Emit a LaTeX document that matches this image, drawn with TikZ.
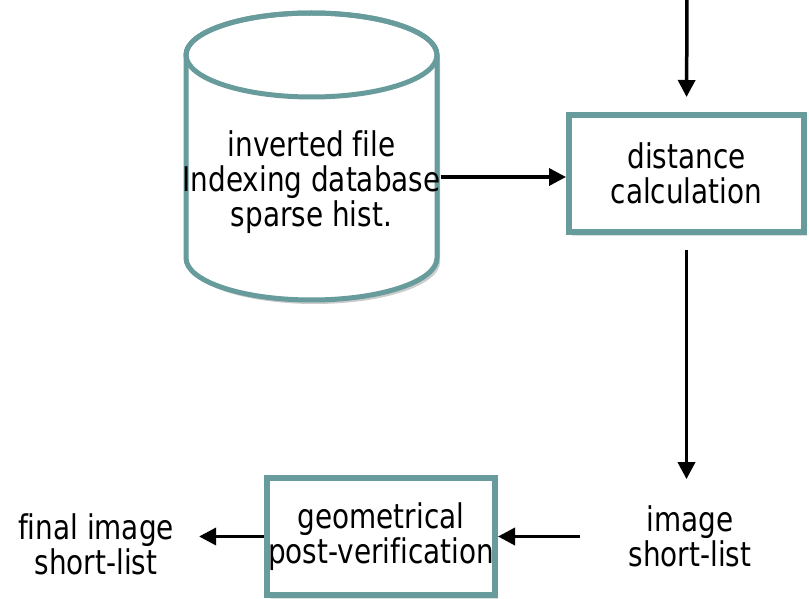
\documentclass[tikz,border=0pt]{standalone}
\usepackage{fontspec}
\setmainfont{DejaVu Sans}[FakeStretch=0.82,Ligatures=NoCommon]
\usetikzlibrary{arrows.meta,shadows}
\definecolor{tealline}{RGB}{104,155,155}
\begin{document}
\begin{tikzpicture}[x=1pt,y=-1pt,
  lbl/.style={align=center,inner sep=0pt,font=\fontsize{34}{35}\selectfont},
  procbox/.style={lbl,draw=tealline,line width=6pt,fill=white,
    drop shadow={opacity=0.25,shadow xshift=3pt,shadow yshift=-4pt}},
  flow/.style={line width=3.5pt,-{Triangle[length=17pt,width=17pt]}}]
\useasboundingbox (0,0) rectangle (809,599);

% database cylinder
\fill[black,opacity=0.2,shift={(3,4)}]
  (186,55) -- (186,258) arc[start angle=180,end angle=360,x radius=125.5pt,y radius=42pt]
  -- (437,55) arc[start angle=0,end angle=180,x radius=125.5pt,y radius=42pt] -- cycle;
\filldraw[fill=white,draw=tealline,line width=5pt]
  (186,55) -- (186,258) arc[start angle=180,end angle=360,x radius=125.5pt,y radius=42pt]
  -- (437,55) arc[start angle=0,end angle=180,x radius=125.5pt,y radius=42pt] -- cycle;
\draw[tealline,line width=5pt] (311.5,55) ellipse[x radius=125.5pt,y radius=42pt];
\node[lbl] (db) at (311.5,182) {inverted file\\Indexing database\\sparse hist.};

% processing boxes
\node[procbox,minimum width=235pt,minimum height=117pt] (dist) at (686.5,173.5)
  {distance\\calculation};
\node[procbox,minimum width=228pt,minimum height=117pt] (geo) at (381,536.5)
  {geometrical\\post-verification};

% plain labels
\node[lbl] (isl) at (690,536) {image\\short-list};
\node[lbl] (final) at (96,544) {final image\\short-list};

% connectors
\coordinate (in) at (687,-2);
\draw[flow,shorten >=15pt] (in) -- (dist.north);
\draw[flow] ([yshift=5pt]db.east) -- ([yshift=5pt]db.east -| dist.west);
\draw[flow,shorten <=15pt,shorten >=26pt] (dist.south) -- (isl.north -| dist.south);
\draw[flow,shorten <=48pt] (isl.west |- geo.east) -- (geo.east);
\draw[flow,shorten >=25pt] (geo.west) -- (geo.west -| final.east);
\end{tikzpicture}
\end{document}
